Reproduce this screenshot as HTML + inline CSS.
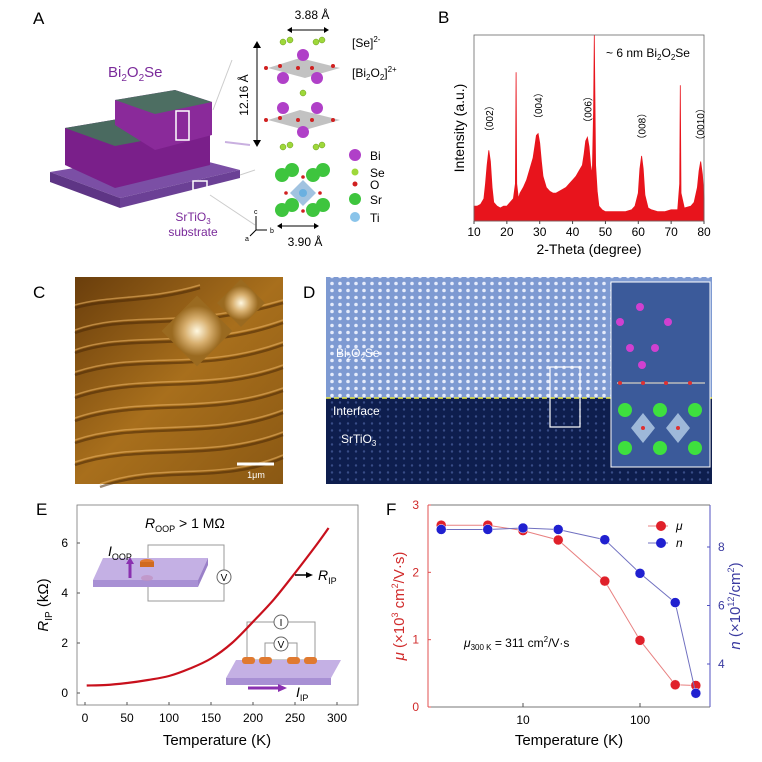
<!DOCTYPE html>
<html><head><meta charset="utf-8">
<style>
html,body{margin:0;padding:0;background:#fff;}
svg{display:block;font-family:"Liberation Sans",Arial,sans-serif;}
</style></head>
<body>
<svg id="fig" width="762" height="762" viewBox="0 0 762 762" xmlns="http://www.w3.org/2000/svg">
<defs>
<linearGradient id="afm" x1="0" y1="0" x2="1" y2="1">
<stop offset="0" stop-color="#6a3e0c"/><stop offset="0.5" stop-color="#a86f1c"/><stop offset="1" stop-color="#8a5813"/>
</linearGradient>
<radialGradient id="pyr" cx="0.5" cy="0.5" r="0.5"><stop offset="0" stop-color="#fff8e0"/><stop offset="0.5" stop-color="#d8b070"/><stop offset="1" stop-color="#9a6a20"/></radialGradient>
<pattern id="dots" width="8" height="7" patternUnits="userSpaceOnUse"><circle cx="4" cy="3.5" r="1.8" fill="#f0f4ff"/></pattern>
<pattern id="dots2" width="8" height="7" patternUnits="userSpaceOnUse"><circle cx="4" cy="3.5" r="1.2" fill="#4a5fa0"/></pattern>
</defs>

<!-- Panel A -->
<g>
<text x="33" y="24" font-size="17">A</text>
<text x="108" y="77" font-size="15" fill="#7a2a9a">Bi<tspan font-size="10" dy="4">2</tspan><tspan dy="-4">O</tspan><tspan font-size="10" dy="4">2</tspan><tspan dy="-4">Se</tspan></text>
<polygon points="50,172 170,152 240,170 120,198" fill="#7b4fa5"/>
<polygon points="50,172 120,198 120,208 50,182" fill="#5e3585"/>
<polygon points="120,198 240,170 240,178 120,208" fill="#6b4095"/>
<polygon points="65,128 160,112 210,128 210,165 115,188 65,165" fill="#7a1f8a"/>
<polygon points="65,128 160,112 210,128 115,146" fill="#4a6a60"/>
<polygon points="115,100 175,90 212,102 212,135 155,150 115,125" fill="#8a2a9a"/>
<polygon points="115,100 175,90 212,102 155,114" fill="#4d6e62"/>
<rect x="176" y="111" width="13" height="29" fill="none" stroke="#fff" stroke-width="1.5"/>
<rect x="193" y="181" width="14" height="9" fill="none" stroke="#fff" stroke-width="1.5"/>
<text x="193" y="221" font-size="12" fill="#7a2a9a" text-anchor="middle">SrTiO<tspan font-size="8" dy="3">3</tspan></text>
<text x="193" y="236" font-size="12" fill="#7a2a9a" text-anchor="middle">substrate</text>
<line x1="213" y1="110" x2="232" y2="60" stroke="#ccc"/>
<line x1="225" y1="142" x2="250" y2="145" stroke="#c9b0e0" stroke-width="2"/>
<line x1="240" y1="175" x2="255" y2="170" stroke="#ccc"/>
<line x1="210" y1="195" x2="255" y2="225" stroke="#ccc"/>
<g>
<line x1="257" y1="42" x2="257" y2="146" stroke="#000"/>
<polygon points="253,48 261,48 257,41" fill="#000"/><polygon points="253,140 261,140 257,147" fill="#000"/>
<text x="248" y="95" font-size="12" transform="rotate(-90 248 95)" text-anchor="middle">12.16 Å</text>
<text x="312" y="19" font-size="12" text-anchor="middle">3.88 Å</text>
<line x1="292" y1="30" x2="324" y2="30" stroke="#000"/>
<polygon points="292,27 292,33 287,30" fill="#000"/><polygon points="324,27 324,33 329,30" fill="#000"/>
<g fill="#9ed83a" stroke="#6a9a1a" stroke-width="0.5">
<circle cx="283" cy="42" r="3"/><circle cx="290" cy="40" r="3"/><circle cx="316" cy="42" r="3"/><circle cx="322" cy="40" r="3"/><circle cx="303" cy="93" r="3"/>
<circle cx="283" cy="147" r="3"/><circle cx="290" cy="145" r="3"/><circle cx="316" cy="147" r="3"/><circle cx="322" cy="145" r="3"/>
</g>
<polygon points="268,68 300,58 340,68 305,78" fill="#999" opacity="0.6"/>
<polygon points="268,120 300,110 340,120 305,130" fill="#999" opacity="0.6"/>
<g fill="#b040c8">
<circle cx="303" cy="55" r="6"/><circle cx="283" cy="78" r="6"/><circle cx="317" cy="78" r="6"/>
<circle cx="283" cy="108" r="6"/><circle cx="317" cy="108" r="6"/><circle cx="303" cy="132" r="6"/>
</g>
<g fill="#d02020"><circle cx="266" cy="68" r="2"/><circle cx="280" cy="66" r="2"/><circle cx="298" cy="68" r="2"/><circle cx="312" cy="68" r="2"/><circle cx="333" cy="66" r="2"/>
<circle cx="266" cy="120" r="2"/><circle cx="280" cy="118" r="2"/><circle cx="298" cy="120" r="2"/><circle cx="312" cy="120" r="2"/><circle cx="333" cy="120" r="2"/></g>
<text x="352" y="47" font-size="12">[Se]<tspan font-size="8" dy="-5">2-</tspan></text>
<text x="352" y="77" font-size="12">[Bi<tspan font-size="8" dy="3">2</tspan><tspan dy="-3">O</tspan><tspan font-size="8" dy="3">2</tspan><tspan dy="-3">]</tspan><tspan font-size="8" dy="-5">2+</tspan></text>
<polygon points="303,180 316,193 303,206 290,193" fill="#8ab4d8" opacity="0.8"/>
<g fill="#3ec53e"><circle cx="282" cy="175" r="7"/><circle cx="292" cy="170" r="7"/><circle cx="313" cy="175" r="7"/><circle cx="323" cy="170" r="7"/>
<circle cx="282" cy="210" r="7"/><circle cx="292" cy="205" r="7"/><circle cx="313" cy="210" r="7"/><circle cx="323" cy="205" r="7"/></g>
<circle cx="303" cy="193" r="4" fill="#6ab0e0"/>
<g fill="#d02020"><circle cx="303" cy="177" r="1.8"/><circle cx="286" cy="193" r="1.8"/><circle cx="320" cy="193" r="1.8"/><circle cx="303" cy="211" r="1.8"/></g>
<line x1="282" y1="226" x2="314" y2="226" stroke="#000"/>
<polygon points="282,223 282,229 277,226" fill="#000"/><polygon points="314,223 314,229 319,226" fill="#000"/>
<text x="305" y="246" font-size="12" text-anchor="middle">3.90 Å</text>
<g stroke="#000" stroke-width="1"><line x1="256" y1="230" x2="256" y2="216"/><line x1="256" y1="230" x2="267" y2="230"/><line x1="256" y1="230" x2="250" y2="236"/></g>
<text x="254" y="214" font-size="7">c</text><text x="270" y="233" font-size="7">b</text><text x="245" y="241" font-size="7">a</text>
</g>
<g>
<circle cx="355" cy="155" r="6" fill="#b040c8"/><text x="370" y="160" font-size="12">Bi</text>
<circle cx="355" cy="172" r="3.5" fill="#9ed83a"/><text x="370" y="177" font-size="12">Se</text>
<circle cx="355" cy="184" r="2.5" fill="#d02020"/><text x="370" y="189" font-size="12">O</text>
<circle cx="355" cy="199" r="6" fill="#3ec53e"/><text x="370" y="204" font-size="12">Sr</text>
<circle cx="355" cy="217" r="5" fill="#8ac4ea"/><text x="370" y="222" font-size="12">Ti</text>
</g>
</g>

<!-- Panel B -->
<g id="panelB">
<text x="438" y="23" font-size="17">B</text>
</g>

<!-- Panel C -->
<g>
<text x="33" y="298" font-size="17">C</text>
<rect x="75" y="277" width="208" height="207" fill="url(#afm)"/>
<g stroke="#4a2806" stroke-width="2.5" fill="none" opacity="0.55">
<path d="M75,333 C130,313 180,333 283,303"/><path d="M75,353 C130,333 200,353 283,323"/><path d="M75,375 C140,353 200,375 283,345"/>
<path d="M75,398 C140,375 210,395 283,368"/><path d="M75,421 C140,398 210,418 283,391"/><path d="M75,443 C140,421 210,441 283,413"/>
<path d="M75,465 C140,443 210,463 283,435"/><path d="M100,487 C160,465 220,485 283,458"/><path d="M75,308 C110,298 150,303 200,288"/>
</g>
<g stroke="#e8b060" stroke-width="1.5" fill="none" opacity="0.6">
<path d="M75,330 C130,310 180,330 283,300"/><path d="M75,350 C130,330 200,350 283,320"/><path d="M75,372 C140,350 200,372 283,342"/>
<path d="M75,395 C140,372 210,392 283,365"/><path d="M75,418 C140,395 210,415 283,388"/><path d="M75,440 C140,418 210,438 283,410"/>
<path d="M75,462 C140,440 210,460 283,432"/><path d="M100,484 C160,462 220,482 283,455"/><path d="M75,305 C110,295 150,300 200,285"/>
</g>
<rect x="172" y="306" width="50" height="50" fill="url(#pyr)" transform="rotate(45 197 331)"/>
<rect x="224" y="286" width="34" height="34" fill="url(#pyr)" transform="rotate(45 241 303)"/>
<line x1="237" y1="464" x2="274" y2="464" stroke="#fff" stroke-width="3"/>
<text x="256" y="478" font-size="9" fill="#fff" text-anchor="middle">1μm</text>
</g>

<!-- Panel D -->
<g>
<text x="303" y="298" font-size="17">D</text>
<rect x="326" y="277" width="386" height="121" fill="#7e9ad2"/>
<rect x="326" y="277" width="386" height="121" fill="url(#dots)" opacity="0.9"/>
<rect x="326" y="398" width="386" height="86" fill="#0e1e4e"/>
<rect x="326" y="398" width="386" height="86" fill="url(#dots2)" opacity="0.7"/>
<line x1="326" y1="398" x2="712" y2="398" stroke="#e8e840" stroke-width="1.5" stroke-dasharray="5,3"/>
<text x="336" y="357" font-size="12" fill="#fff">Bi<tspan font-size="8" dy="3">2</tspan><tspan dy="-3">O</tspan><tspan font-size="8" dy="3">2</tspan><tspan dy="-3">Se</tspan></text>
<text x="333" y="415" font-size="12" fill="#fff">Interface</text>
<text x="341" y="443" font-size="12" fill="#fff">SrTiO<tspan font-size="8" dy="3">3</tspan></text>
<rect x="550" y="367" width="30" height="60" fill="none" stroke="#fff" stroke-width="1.2"/>
<rect x="611" y="282" width="99" height="185" fill="#3b5a9a" stroke="#fff" stroke-width="1"/>
<g fill="#d040d0"><circle cx="640" cy="307" r="4"/><circle cx="620" cy="322" r="4"/><circle cx="668" cy="322" r="4"/><circle cx="630" cy="348" r="4"/><circle cx="655" cy="348" r="4"/><circle cx="642" cy="365" r="4"/></g>
<g fill="#3ee03e"><circle cx="625" cy="410" r="7"/><circle cx="660" cy="410" r="7"/><circle cx="695" cy="410" r="7"/><circle cx="625" cy="448" r="7"/><circle cx="660" cy="448" r="7"/><circle cx="695" cy="448" r="7"/></g>
<polygon points="643,413 655,428 643,443 631,428" fill="#b8d0e8" opacity="0.8"/><polygon points="678,413 690,428 678,443 666,428" fill="#b8d0e8" opacity="0.8"/>
<line x1="617" y1="383" x2="705" y2="383" stroke="#bbb" stroke-width="1.5"/>
<g fill="#e03030"><circle cx="620" cy="383" r="2"/><circle cx="643" cy="383" r="2"/><circle cx="666" cy="383" r="2"/><circle cx="690" cy="383" r="2"/><circle cx="643" cy="428" r="2"/><circle cx="678" cy="428" r="2"/></g>
</g>

<!-- Panel E -->
<g id="panelE">
<text x="36" y="515" font-size="17">E</text>
</g>

<!-- Panel F -->
<g id="panelF">
<text x="386" y="515" font-size="17">F</text>
</g>
</svg>

<script>
// ---------- Panel B data ----------
const xrdAngles = [10,11,12,13,13.5,14,14.5,15,15.5,16,17,18,19,20,21,22,22.6,22.8,23,23.5,24,25,26,27,28,28.5,29,29.5,30,30.5,31,32,33,34,35,36,37,38,39,40,41,42,43,43.5,44,44.5,45,45.5,46,46.4,46.6,47,47.5,48,49,50,52,54,56,58,59,60,60.5,61,61.5,62,63,64,66,68,70,72,72.6,72.8,73,74,76,77,78,78.5,79,79.5,80];
const xrdIntensity = [0.08,0.08,0.09,0.12,0.2,0.3,0.38,0.32,0.18,0.1,0.08,0.07,0.08,0.08,0.1,0.12,0.2,0.8,0.2,0.12,0.15,0.18,0.22,0.28,0.34,0.4,0.46,0.47,0.42,0.32,0.24,0.18,0.16,0.15,0.15,0.16,0.17,0.18,0.2,0.22,0.24,0.27,0.3,0.36,0.43,0.45,0.4,0.3,0.25,0.6,1.0,0.3,0.16,0.08,0.06,0.05,0.05,0.05,0.05,0.06,0.08,0.15,0.28,0.35,0.28,0.14,0.07,0.06,0.05,0.05,0.06,0.06,0.2,0.73,0.15,0.07,0.08,0.1,0.18,0.27,0.32,0.25,0.12];
const xrdTicks = [10,20,30,40,50,60,70,80];
const xrdPeakLabels = ["（002）","（004）","（006）","（008）","（0010）"];
const xrdPeakPos = [14.5,29.5,44.5,61,78.8];
const xrdPeakLabelY = [0.55,0.62,0.6,0.51,0.52];

// ---------- Panel E data ----------
const rTemps = [2,25,50,75,100,125,150,175,200,225,250,275,290];
const rValues = [0.3,0.32,0.4,0.52,0.68,0.98,1.38,2.0,2.85,3.75,4.8,5.9,6.6];
const eXTicks = [0,50,100,150,200,250,300];
const eYTicks = [0,2,4,6];

// ---------- Panel F data ----------
const fTemps = [2,5,10,20,50,100,200,300];
const muValues = [2.7,2.7,2.62,2.48,1.87,0.99,0.33,0.32];
const nValues = [8.6,8.6,8.65,8.6,8.25,7.1,6.1,3.0];
const fXTicks = [10,100];
const fYLeftTicks = [0,1,2,3];
const fYRightTicks = [4,6,8];

const NS = "http://www.w3.org/2000/svg";
function mk(tag, attrs, parent, text){
  const e = document.createElementNS(NS, tag);
  for (const k in attrs) e.setAttribute(k, attrs[k]);
  if (text !== undefined) e.textContent = text;
  parent.appendChild(e);
  return e;
}

// ===== Panel B =====
(function(){
  const g = document.getElementById('panelB');
  const x0=474,x1=704,y0=221,y1=35;
  const sx = v => x0 + (v-10)/(80-10)*(x1-x0);
  const sy = v => y0 - v*(y0-y1);
  let d = "M"+sx(xrdAngles[0])+","+y0;
  xrdAngles.forEach((a,i)=>{ d += " L"+sx(a).toFixed(1)+","+sy(xrdIntensity[i]).toFixed(1); });
  d += " L"+sx(xrdAngles[xrdAngles.length-1])+","+y0+" Z";
  const area = mk('path',{d:d,fill:'#e8141c',stroke:'#e8141c','stroke-width':0.8},g);
  
  
  const fr = mk('rect',{x:x0,y:y1,width:x1-x0,height:y0-y1,fill:'none',stroke:'#666','stroke-width':0.8},g);
  
  
  xrdTicks.forEach(t=>{
    mk('line',{x1:sx(t),x2:sx(t),y1:y0,y2:y0+3,stroke:'#444'},g);
    const tl = mk('text',{x:sx(t),y:y0+15,'font-size':12,'text-anchor':'middle'},g,String(t));
    
    
  });
  xrdPeakLabels.forEach((lab,i)=>{
    const px=sx(xrdPeakPos[i])+4, py=sy(xrdPeakLabelY[i]);
    const t = mk('text',{x:px,y:py,'font-size':10,transform:'rotate(-90 '+px+' '+py+')','text-anchor':'middle'},g,lab);
    
    
  });
  const xt = mk('text',{x:589,y:254,'font-size':14,'text-anchor':'middle'},g,'2-Theta (degree)');
  
  
  const yt = mk('text',{x:464,y:128,'font-size':14,'text-anchor':'middle',transform:'rotate(-90 464 128)'},g,'Intensity (a.u.)');
  
  
  const an = mk('text',{x:606,y:57,'font-size':12},g);
  an.innerHTML = '~ 6 nm Bi<tspan font-size="8" dy="3">2</tspan><tspan dy="-3">O</tspan><tspan font-size="8" dy="3">2</tspan><tspan dy="-3">Se</tspan>';
  
  
})();

// ===== Panel E =====
(function(){
  const g = document.getElementById('panelE');
  const px0=77,px1=358,py0=705,py1=505;
  const sx = v => 85 + v*(337-85)/300;
  const sy = v => 693 - v*25;
  const fr = mk('rect',{x:px0,y:py1,width:px1-px0,height:py0-py1,fill:'none',stroke:'#777','stroke-width':0.8},g);
  
  
  eXTicks.forEach(t=>{
    mk('line',{x1:sx(t),x2:sx(t),y1:py0,y2:py0-3,stroke:'#555'},g);
    const tl = mk('text',{x:sx(t),y:py0+17,'font-size':12,'text-anchor':'middle'},g,String(t));
    
    
  });
  eYTicks.forEach(t=>{
    mk('line',{x1:px0,x2:px0+3,y1:sy(t),y2:sy(t),stroke:'#555'},g);
    const tl = mk('text',{x:px0-9,y:sy(t)+4,'font-size':12,'text-anchor':'end'},g,String(t));
    
    
  });
  const ins = mk('g',{},g);
  
  
  ins.innerHTML = '<rect x="148" y="545" width="76" height="56" fill="none" stroke="#999"/>'+
   '<polygon points="93,580 103,558 208,558 198,580" fill="#c4b0e4"/><polygon points="93,580 198,580 198,587 93,587" fill="#a890d4"/><polygon points="198,580 208,558 208,565 198,587" fill="#9a80c8"/>'+
   '<ellipse cx="147" cy="562" rx="7" ry="3" fill="#e07a30"/><rect x="140" y="562" width="14" height="5" fill="#d06a20"/>'+
   '<ellipse cx="147" cy="578" rx="6" ry="3" fill="#c090c0" opacity="0.7"/>'+
   '<line x1="130" y1="578" x2="130" y2="562" stroke="#8a30b0" stroke-width="3"/><polygon points="126,564 134,564 130,557" fill="#8a30b0"/>'+
   '<circle cx="224" cy="577" r="7" fill="#fff" stroke="#666"/><text x="224" y="581" font-size="10" text-anchor="middle">V</text>'+
   '<rect x="247" y="622" width="68" height="38" fill="none" stroke="#999"/><rect x="265" y="643" width="32" height="22" fill="none" stroke="#999"/>'+
   '<polygon points="226,678 236,660 341,660 331,678" fill="#c4b0e4"/><polygon points="226,678 331,678 331,685 226,685" fill="#a890d4"/>'+
   '<g fill="#e07a30"><rect x="242" y="657" width="13" height="7" rx="3"/><rect x="259" y="657" width="13" height="7" rx="3"/><rect x="287" y="657" width="13" height="7" rx="3"/><rect x="304" y="657" width="13" height="7" rx="3"/></g>'+
   '<circle cx="281" cy="622" r="7" fill="#fff" stroke="#666"/><text x="281" y="626" font-size="10" text-anchor="middle">I</text>'+
   '<circle cx="281" cy="644" r="7" fill="#fff" stroke="#666"/><text x="281" y="648" font-size="10" text-anchor="middle">V</text>'+
   '<line x1="248" y1="688" x2="280" y2="688" stroke="#8a30b0" stroke-width="3"/><polygon points="278,684 278,692 287,688" fill="#8a30b0"/>'+
   '<text x="296" y="697" font-size="14" font-style="italic">I<tspan font-size="9" font-style="normal" dy="4">IP</tspan></text>'+
   '<text x="108" y="556" font-size="14" font-style="italic">I<tspan font-size="9" font-style="normal" dy="4">OOP</tspan></text>'+
   '<text x="145" y="528" font-size="14" ><tspan font-style="italic">R</tspan><tspan font-size="9" dy="4">OOP</tspan><tspan dy="-4"> &gt; 1 MΩ</tspan></text>'+
   '<line x1="295" y1="575" x2="308" y2="575" stroke="#000" stroke-width="1.5"/><polygon points="306,572 306,578 313,575" fill="#000"/>'+
   '<text x="318" y="580" font-size="14" font-style="italic">R<tspan font-size="9" font-style="normal" dy="4">IP</tspan></text>';
  // smooth curve (Catmull-Rom)
  const pts = rTemps.map((t,i)=>[sx(t), sy(rValues[i])]);
  let d = "M"+pts[0][0].toFixed(1)+","+pts[0][1].toFixed(1);
  for (let i=0;i<pts.length-1;i++){
    const p0=pts[Math.max(0,i-1)], p1=pts[i], p2=pts[i+1], p3=pts[Math.min(pts.length-1,i+2)];
    const c1=[p1[0]+(p2[0]-p0[0])/6, p1[1]+(p2[1]-p0[1])/6];
    const c2=[p2[0]-(p3[0]-p1[0])/6, p2[1]-(p3[1]-p1[1])/6];
    d += " C"+c1[0].toFixed(1)+","+c1[1].toFixed(1)+" "+c2[0].toFixed(1)+","+c2[1].toFixed(1)+" "+p2[0].toFixed(1)+","+p2[1].toFixed(1);
  }
  const ln = mk('path',{d:d,fill:'none',stroke:'#c8101c','stroke-width':2.2,'stroke-linejoin':'round'},g);
  
  
  const xt = mk('text',{x:217,y:745,'font-size':15,'text-anchor':'middle'},g,'Temperature (K)');
  
  
  const yt = mk('text',{x:48,y:605,'font-size':15,'text-anchor':'middle',transform:'rotate(-90 48 605)'},g);
  yt.innerHTML='<tspan font-style="italic">R</tspan><tspan font-size="10" dy="4">IP</tspan><tspan dy="-4"> (kΩ)</tspan>';
  
  
})();

// ===== Panel F =====
(function(){
  const g = document.getElementById('panelF');
  const px0=428,px1=710,py0=707,py1=505;
  const sx = v => 523 + Math.log10(v/10)*117;
  const syL = v => 707 - v*(707-505)/3;
  const syR = v => 664 - (v-4)*29.25;
  mk('line',{x1:px0,y1:py1,x2:px0,y2:py0,stroke:'#e05050'},g);
  mk('line',{x1:px1,y1:py1,x2:px1,y2:py0,stroke:'#5050c0'},g);
  mk('line',{x1:px0,y1:py0,x2:px1,y2:py0,stroke:'#777'},g);
  mk('line',{x1:px0,y1:py1,x2:px1,y2:py1,stroke:'#777'},g);
  fXTicks.forEach(t=>{
    mk('line',{x1:sx(t),x2:sx(t),y1:py0,y2:py0-4,stroke:'#555'},g);
    const tl = mk('text',{x:sx(t),y:py0+17,'font-size':12,'text-anchor':'middle'},g,String(t));
    
    
  });
  fYLeftTicks.forEach(t=>{
    mk('line',{x1:px0,x2:px0+3,y1:syL(t),y2:syL(t),stroke:'#e05050'},g);
    const tl = mk('text',{x:px0-9,y:syL(t)+4,'font-size':12,'text-anchor':'end',fill:'#d02a2a'},g,String(t));
    
    
  });
  fYRightTicks.forEach(t=>{
    mk('line',{x1:px1,x2:px1-3,y1:syR(t),y2:syR(t),stroke:'#5050c0'},g);
    const tl = mk('text',{x:px1+8,y:syR(t)+4,'font-size':12,fill:'#3a3aa0'},g,String(t));
    
    
  });
  function series(vals, sy, col, lcol, name){
    let d="";
    fTemps.forEach((t,i)=>{ d += (i?" L":"M")+sx(t).toFixed(1)+","+sy(vals[i]).toFixed(1); });
    const l = mk('path',{d:d,fill:'none',stroke:lcol,'stroke-width':1},g);
    
    
    fTemps.forEach((t,i)=>{
      const c = mk('circle',{cx:sx(t),cy:sy(vals[i]),r:5,fill:col,stroke:'#fff','stroke-width':0.5},g);
      
      
    });
  }
  series(muValues, syL, '#e0202a', '#e88080', 'mobility');
  series(nValues, syR, '#2020d0', '#7070c0', 'carrier-density');
  const lg = mk('g',{},g);
  
  
  lg.innerHTML='<line x1="648" y1="526" x2="668" y2="526" stroke="#e88080"/><circle cx="661" cy="526" r="5" fill="#e0202a"/><text x="676" y="530" font-size="12" font-style="italic">μ</text>'+
    '<line x1="648" y1="543" x2="668" y2="543" stroke="#7070c0"/><circle cx="661" cy="543" r="5" fill="#2020d0"/><text x="676" y="547" font-size="12" font-style="italic">n</text>';
  const an = mk('text',{x:464,y:647,'font-size':12},g);
  an.innerHTML='<tspan font-style="italic">μ</tspan><tspan font-size="8" dy="3">300 K</tspan><tspan dy="-3"> = 311 cm</tspan><tspan font-size="8" dy="-5">2</tspan><tspan dy="5">/V·s</tspan>';
  
  
  const xt = mk('text',{x:569,y:745,'font-size':15,'text-anchor':'middle'},g,'Temperature (K)');
  
  
  const yl = mk('text',{x:404,y:606,'font-size':15,'text-anchor':'middle',fill:'#d02a2a',transform:'rotate(-90 404 606)'},g);
  yl.innerHTML='<tspan font-style="italic">μ</tspan> (×10<tspan font-size="9" dy="-6">3</tspan><tspan dy="6"> cm</tspan><tspan font-size="9" dy="-6">2</tspan><tspan dy="6">/V·s)</tspan>';
  
  
  const yr = mk('text',{x:740,y:606,'font-size':15,'text-anchor':'middle',fill:'#3a3aa0',transform:'rotate(-90 740 606)'},g);
  yr.innerHTML='<tspan font-style="italic">n</tspan> (×10<tspan font-size="9" dy="-6">12</tspan><tspan dy="6">/cm</tspan><tspan font-size="9" dy="-6">2</tspan><tspan dy="6">)</tspan>';
  
  
})();
</script>
</body></html>
